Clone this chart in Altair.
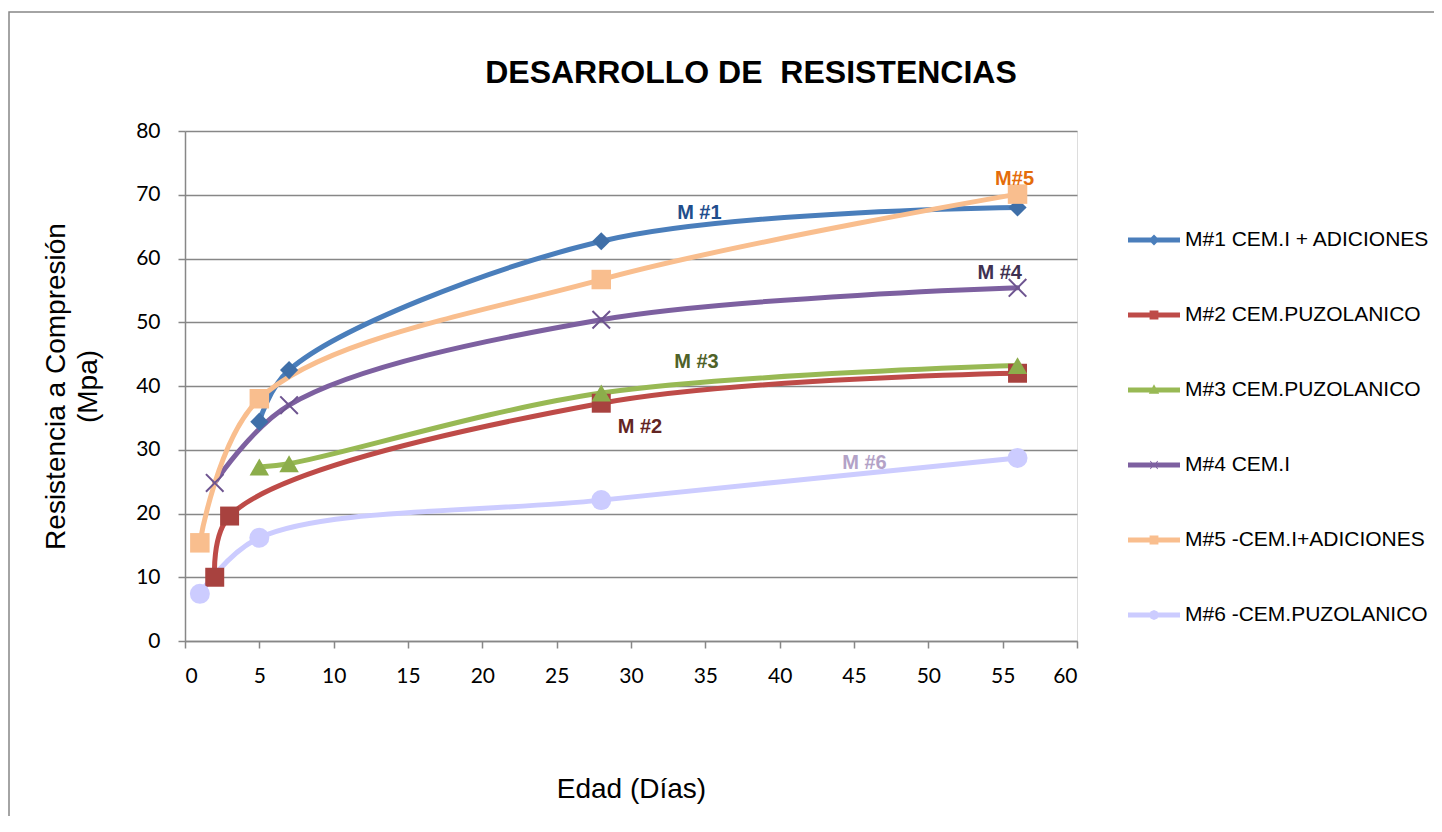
import altair as alt
import pandas as pd

# ---- data ----
series = ["M#1 CEM.I + ADICIONES", "M#2 CEM.PUZOLANICO", "M#3 CEM.PUZOLANICO",
          "M#4 CEM.I", "M#5 -CEM.I+ADICIONES", "M#6 -CEM.PUZOLANICO"]

dias_m1 = [5, 7, 28, 56]
res_m1 = [34.4, 42.5, 62.7, 68.0]
dias_m2 = [2, 3, 28, 56]
res_m2 = [10.0, 19.6, 37.3, 42.0]
dias_m3 = [5, 7, 28, 56]
res_m3 = [27.3, 27.8, 38.9, 43.2]
dias_m4 = [2, 7, 28, 56]
res_m4 = [24.8, 37.0, 50.4, 55.4]
dias_m5 = [1, 5, 28, 56]
res_m5 = [15.4, 38.0, 56.7, 70.1]
dias_m6 = [1, 5, 28, 56]
res_m6 = [7.4, 16.2, 22.1, 28.7]

ann_text = ["M #1", "M #2", "M #3", "M #4", "M#5", "M #6"]
ann_x = [34.6, 30.6, 34.4, 54.8, 55.8, 45.7]
ann_y = [67.1, 33.6, 43.8, 57.7, 72.5, 27.9]

x_ticks = list(range(0, 61, 5))
y_ticks = list(range(0, 81, 10))

# ---- styles ----
line_colors = ["#4A7EBB", "#BE4B48", "#98B954", "#7D60A0", "#F9BE8E", "#CCCCFF"]
marker_colors = ["#3F6FA8", "#A8423F", "#8CAD4B", "#6E5490", "#F9BE8E", "#CCCCFF"]
ann_colors = ["#1F4E8C", "#632523", "#4F6228", "#3F3151", "#E46C0A", "#B3A2C7"]

X_PATH = ("M-1,-0.85 L-0.85,-1 L0,-0.15 L0.85,-1 L1,-0.85 L0.15,0 L1,0.85 "
          "L0.85,1 L0,0.15 L-0.85,1 L-1,0.85 L-0.15,0 Z")
marker_shapes = ["diamond", "square", "triangle-up", X_PATH, "square", "circle"]
marker_sizes = [330, 360, 380, 361, 380, 400]

SEG = "M-1,-0.1 L1,-0.1 L1,0.1 L-1,0.1 Z "
legend_paths = [
    SEG + "M0,-0.21 L0.21,0 L0,0.21 L-0.21,0 Z",
    SEG + "M-0.17,-0.17 L0.17,-0.17 L0.17,0.17 L-0.17,0.17 Z",
    SEG + "M0,-0.22 L0.2,0.14 L-0.2,0.14 Z",
    SEG + "M-0.16,-0.14 L-0.14,-0.16 L0,-0.03 L0.14,-0.16 L0.16,-0.14 L0.03,0 "
          "L0.16,0.14 L0.14,0.16 L0,0.03 L-0.14,0.16 L-0.16,0.14 L-0.03,0 Z",
    SEG + "M-0.17,-0.17 L0.17,-0.17 L0.17,0.17 L-0.17,0.17 Z",
    SEG + "M0,-0.19 L0.134,-0.134 L0.19,0 L0.134,0.134 L0,0.19 L-0.134,0.134 "
          "L-0.19,0 L-0.134,-0.134 Z",
]

all_dias = [dias_m1, dias_m2, dias_m3, dias_m4, dias_m5, dias_m6]
all_res = [res_m1, res_m2, res_m3, res_m4, res_m5, res_m6]
rows = []
for s, d, r in zip(series, all_dias, all_res):
    for xi, yi in zip(d, r):
        rows.append({"serie": s, "dias": xi, "res": yi})
df = pd.DataFrame(rows)
ann_df = pd.DataFrame({"t": ann_text, "x": ann_x, "y": ann_y, "c": ann_colors})

GRAY = "#878787"
xs = alt.Scale(domain=[0, 60], nice=False)
ys = alt.Scale(domain=[0, 80], nice=False)
color_scale = alt.Scale(domain=series, range=line_colors)

x_enc = alt.X("dias:Q", scale=xs, axis=alt.Axis(
    values=x_ticks, title="Edad (Días)", grid=False, domainColor=GRAY, domainWidth=1.5,
    tickColor=GRAY, tickWidth=1.5, tickSize=7, labelPadding=17,
    labelFont="Lato", labelFontSize=21, labelColor="black",
    titleFont="Liberation Sans", titleFontSize=28, titleFontWeight="normal",
    titleColor="black", titlePadding=89))
y_enc = alt.Y("res:Q", scale=ys, axis=alt.Axis(
    values=y_ticks, title=["Resistencia a Compresión", "(Mpa)"], grid=True,
    gridColor=GRAY, gridWidth=1.5, domainColor=GRAY, domainWidth=1.5,
    tickColor=GRAY, tickWidth=1.5, tickSize=7, labelPadding=18,
    labelFont="Lato", labelFontSize=21, labelColor="black",
    titleFont="Liberation Sans", titleFontSize=28, titleFontWeight="normal",
    titleColor="black", titlePadding=33, titleLineHeight=32))

base = alt.Chart(df)

frame = alt.Chart(pd.DataFrame({"k": [0]})).mark_rect(
    fill="transparent", stroke=GRAY, strokeWidth=1.5
).encode(x=alt.value(-176), x2=alt.value(1400), y=alt.value(-119), y2=alt.value(900))

leg = alt.Legend(
    title=None, orient="none", legendX=943, legendY=83, padding=0,
    symbolSize=2704, symbolOpacity=1, symbolStrokeWidth=0,
    labelFont="Liberation Sans", labelFontSize=21, labelColor="black",
    labelOffset=5, rowPadding=39, labelLimit=400,
)

# tiny marks (hidden under the lines/markers) that carry the legend symbols
legend_layer = base.mark_point(filled=True, size=4, opacity=1, strokeWidth=0).encode(
    x=x_enc, y=y_enc,
    color=alt.Color("serie:N", scale=color_scale, legend=leg),
    shape=alt.Shape("serie:N", scale=alt.Scale(domain=series, range=legend_paths), legend=leg),
)

lines = base.mark_line(interpolate="catmull-rom", strokeWidth=5, strokeCap="round").encode(
    x="dias:Q", y="res:Q",
    color=alt.Color("serie:N", scale=color_scale, legend=leg),
    detail="serie:N",
)

point_layers = []
for s, shp, mc, sz in zip(series, marker_shapes, marker_colors, marker_sizes):
    point_layers.append(
        base.transform_filter(alt.datum.serie == s).mark_point(
            shape=shp, filled=True, color=mc, size=sz, opacity=1, strokeWidth=0
        ).encode(x="dias:Q", y="res:Q")
    )

labels = alt.Chart(ann_df).mark_text(
    font="Liberation Sans", fontSize=20, fontWeight="bold"
).encode(x="x:Q", y="y:Q", text="t:N", color=alt.Color("c:N", scale=None))

chart = alt.layer(frame, legend_layer, lines, *point_layers, labels).properties(
    width=892, height=510,
    title=alt.TitleParams(
        "DESARROLLO DE \u00a0RESISTENCIAS", font="Liberation Sans", fontSize=32,
        fontWeight="bold", color="black", anchor="middle", frame="group",
        baseline="alphabetic", dx=120, offset=-104),
    autosize=alt.AutoSizeParams(type="none"),
    padding={"left": 177, "top": 123, "right": 357, "bottom": 175},
).configure_view(stroke=None).configure(background="white")

chart.save("out.html", embed_options={"renderer": "svg", "actions": False})
